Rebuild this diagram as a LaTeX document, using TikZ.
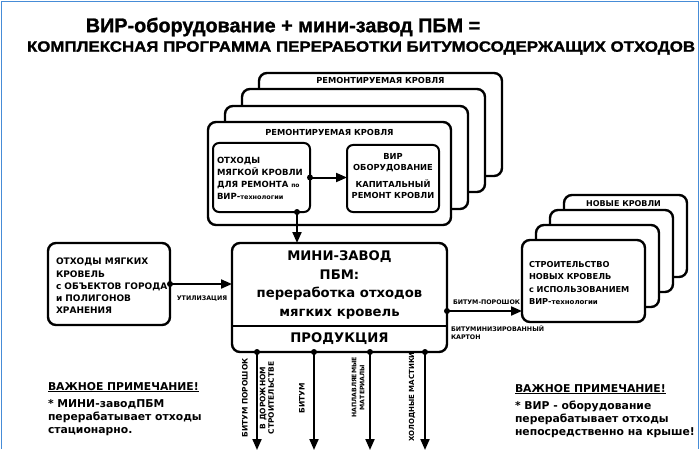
\documentclass[tikz,border=0pt]{standalone}
\usepackage{fontspec}
\setmainfont{DejaVu Sans}
\newfontfamily\arialfont{Liberation Sans}
\newfontfamily\heavyfont{Liberation Sans}[FakeBold=1.2]
\usetikzlibrary{arrows.meta}
\definecolor{frameblue}{RGB}{70,140,215}
\newcommand\fsz[2]{\fontsize{#1}{#2}\selectfont\bfseries}
\begin{document}
\begin{tikzpicture}[x=1pt,y=-1pt,
  every node/.style={inner sep=0pt,outer sep=0pt},
  bigbox/.style={draw,line width=2.4pt,rounded corners=8pt,fill=white,anchor=north west},
  smallbox/.style={draw,line width=2pt,rounded corners=6pt,fill=white,anchor=north west},
  conn/.style={line width=2pt,-{Triangle[length=11pt,width=9pt]}},
  sdot/.style={circle,fill,minimum size=6pt},
  lbl/.style={font=\fsz{6.3}{7.2},align=left},
  vlbl/.style={font=\fsz{7.5}{8.5},rotate=90,align=center},
  boxtxt/.style={font=\fsz{8.5}{12},align=left,anchor=west},
  note/.style={font=\fsz{10.8}{13},align=left,anchor=north west}
]
\useasboundingbox (0,0) rectangle (700,449);
% frame
\draw[frameblue,line width=1.6pt] (1.5,449) -- (1.5,1.5) -- (698.5,1.5) -- (698.5,449);

% titles
\node (t1) at (283,27) {\heavyfont\bfseries\fontsize{19.8}{22}\selectfont ВИР-оборудование + мини-завод ПБМ =};
\node[anchor=west] (t2) at (27,48) {\resizebox{668pt}{10.5pt}{\heavyfont\bfseries КОМПЛЕКСНАЯ ПРОГРАММА ПЕРЕРАБОТКИ БИТУМОСОДЕРЖАЩИХ ОТХОДОВ}};

% top stack: repaired roofs
\node[bigbox,minimum width=243pt,minimum height=103pt] (rk3) at (259,73) {};
\node[font=\fsz{8.3}{9}] (rk3t) at ([yshift=-7.5pt]rk3.north) {РЕМОНТИРУЕМАЯ КРОВЛЯ};
\node[bigbox,minimum width=243pt,minimum height=103pt] (rk2) at (242,89) {};
\node[bigbox,minimum width=243pt,minimum height=103pt] (rk1) at (225,106) {};
\node[bigbox,minimum width=243pt,minimum height=103pt] (rk0) at (208,122) {};
\node[font=\fsz{8.3}{9}] (rk0t) at ([yshift=-10pt]rk0.north) {РЕМОНТИРУЕМАЯ КРОВЛЯ};

\node[smallbox,minimum width=97pt,minimum height=69pt] (li) at (213,143) {};
\node[boxtxt] (lit) at (217,178) {ОТХОДЫ\\МЯГКОЙ КРОВЛИ\\ДЛЯ РЕМОНТА {\fontsize{6}{7}\selectfont по}\\ВИР-{\fontsize{6.5}{7}\selectfont технологии}};
\node[smallbox,minimum width=92pt,minimum height=67pt] (ri) at (347,145) {};
\node[font=\fsz{8.3}{11.5},align=center] (rit) at (393,176) {ВИР\\ОБОРУДОВАНИЕ\\[5pt]КАПИТАЛЬНЫЙ\\РЕМОНТ КРОВЛИ};

% right stack: new roofs
\node[bigbox,minimum width=123pt,minimum height=82pt] (nb3) at (564,195) {};
\node[font=\fsz{8}{9}] (nb3t) at ([yshift=-9pt,xshift=-2pt]nb3.north) {НОВЫЕ КРОВЛИ};
\node[bigbox,minimum width=123pt,minimum height=82pt] (nb2) at (550,210) {};
\node[bigbox,minimum width=123pt,minimum height=82pt] (nb1) at (536,225) {};
\node[bigbox,minimum width=123pt,minimum height=82pt] (nb0) at (522,240) {};
\node[boxtxt,font=\fsz{8.2}{12.5}] (nbt) at (529,283) {СТРОИТЕЛЬСТВО\\НОВЫХ КРОВЕЛЬ\\с ИСПОЛЬЗОВАНИЕМ\\ВИР-{\fontsize{7}{8}\selectfont технологии}};

% source box
\node[bigbox,minimum width=122pt,minimum height=82pt] (src) at (48,243) {};
\node[boxtxt,font=\fsz{9}{12.2}] (srct) at (56,286) {ОТХОДЫ МЯГКИХ\\КРОВЕЛЬ\\с ОБЪЕКТОВ ГОРОДА\\и ПОЛИГОНОВ\\ХРАНЕНИЯ};

% main plant
\node[bigbox,minimum width=215pt,minimum height=109pt] (mz) at (232,243) {};
\draw[line width=1.4pt] (mz.west |- 0,326) -- (mz.east |- 0,326);
\node[font=\fsz{13.2}{18.5},align=center] (mzt) at (339.5,285) {МИНИ-ЗАВОД\\ПБМ:\\переработка отходов\\мягких кровель};
\node[font=\fsz{13.2}{14}] (prod) at (339.5,339) {ПРОДУКЦИЯ};

% connectors
\draw[conn] (src.east) node[sdot]{} -- (src.east -| mz.west);
\node[lbl] (util) at (202,299) {УТИЛИЗАЦИЯ};
\draw[conn] (li.east) node[sdot]{} -- (li.east -| ri.west);
\draw[conn] ([xshift=35.5pt]li.south) node[sdot]{} -- ([xshift=35.5pt]li.south |- mz.north);
\draw[conn] ([yshift=-13.5pt]mz.east) node[sdot]{} -- ([yshift=-13.5pt]mz.east -| nb0.west);
\node[lbl,anchor=west] (bp) at (453,302) {БИТУМ-ПОРОШОК};
\node[lbl,anchor=north west] (bk) at (451,326) {БИТУМИНИЗИРОВАННЫЙ\\КАРТОН};

\coordinate (o1) at (257,450);
\coordinate (o2) at (314,450);
\coordinate (o3) at (370,450);
\coordinate (o4) at (425,450);
\foreach \o in {o1,o2,o3,o4}{
  \draw[conn] (\o |- mz.south) node[sdot]{} -- (\o);
}
\node[vlbl] (v1) at (245,398) {БИТУМ ПОРОШОК};
\node[vlbl] (v2) at (267,398) {В ДОРОЖНОМ\\СТРОИТЕЛЬСТВЕ};
\node[vlbl] (v3) at (302,398) {БИТУМ};
\node[vlbl,font=\fsz{6.2}{8},anchor=east] (v4) at (358,357) {НАПЛАВЛЯЕМЫЕ\\МАТЕРИАЛЫ};
\node[vlbl,font=\fsz{7}{8}] (v5) at (412,397) {ХОЛОДНЫЕ МАСТИКИ};

% notes
\node[note] (n1) at (48,382) {\underline{ВАЖНОЕ ПРИМЕЧАНИЕ!}\\[4pt]* МИНИ-заводПБМ\\перерабатывает отходы\\стационарно.};
\node[note] (n2) at (515,384) {\underline{ВАЖНОЕ ПРИМЕЧАНИЕ!}\\[4pt]* ВИР - оборудование\\перерабатывает отходы\\непосредственно на крыше!};
\end{tikzpicture}
\end{document}
